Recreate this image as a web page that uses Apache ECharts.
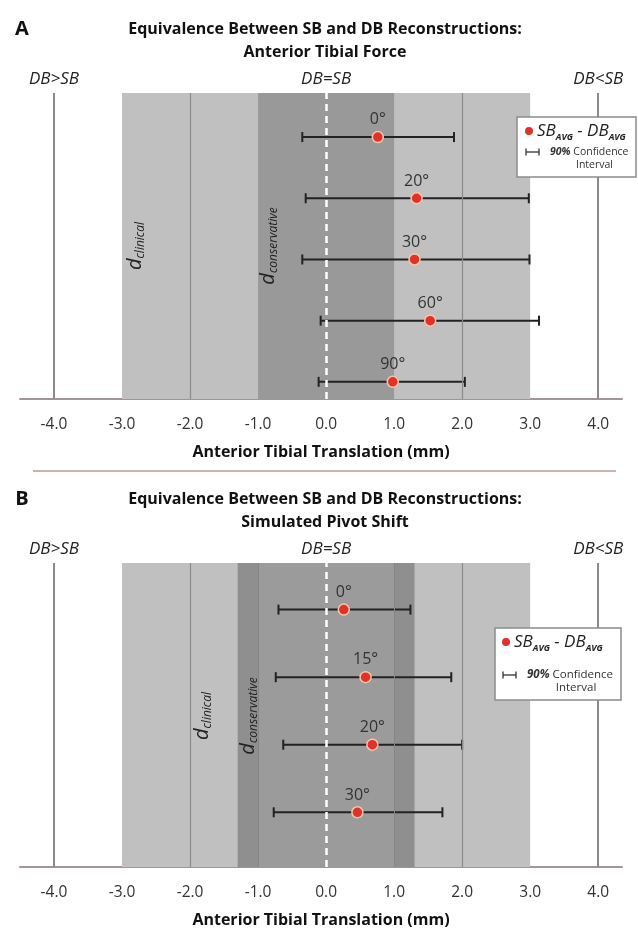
<!DOCTYPE html>
<html>
<head>
<meta charset="utf-8">
<script src="https://cdn.jsdelivr.net/npm/echarts@6/dist/echarts.min.js"></script>
<style>
  html, body { margin: 0; padding: 0; background: #fff; }
  #chart { width: 638px; height: 929px; }
</style>
</head>
<body>
<div id="chart"></div>
<script>
// x axis tick labels (mm)
var xTicks = [-4, -3, -2, -1, 0, 1, 2, 3, 4];

// A: anterior tibial force
var angleA = ['0°', '20°', '30°', '60°', '90°'];
var meanA = [0.76, 1.33, 1.30, 1.53, 0.98];
var lowA = [-0.35, -0.30, -0.35, -0.08, -0.11];
var highA = [1.88, 2.98, 2.99, 3.13, 2.04];

// B: simulated pivot shift
var angleB = ['0°', '15°', '20°', '30°'];
var meanB = [0.26, 0.58, 0.68, 0.46];
var lowB = [-0.70, -0.74, -0.63, -0.77];
var highB = [1.24, 1.84, 2.00, 1.71];

// equivalence margins
var clinical = 3;
var conservativeA = 1;
var conservativeB = 1.3;

var FONT = "'Open Sans'";
var chart = echarts.init(document.getElementById('chart'));

var grids = [
  { left: 20, width: 602, top: 93, height: 306 },
  { left: 20, width: 602, top: 563, height: 306 }
];

function xAxisFor(i) {
  return {
    gridIndex: i, type: 'value', min: -4.5, max: 4.35,
    axisLine: { lineStyle: { color: '#a39593', width: 2 } },
    axisTick: { show: false },
    splitLine: { show: false },
    axisLabel: {
      customValues: xTicks, margin: 18, fontSize: 15.5, fontFamily: FONT, color: '#333',
      formatter: function (v) { return v.toFixed(1); }
    },
    name: 'Anterior Tibial Translation (mm)',
    nameLocation: 'middle', nameGap: 45,
    nameTextStyle: { fontSize: 16, fontWeight: 'bold', fontFamily: FONT, color: '#111' }
  };
}

function renderBar(params, api) {
  var y = api.value(0);
  var p1 = api.coord([api.value(1), y]);
  var p2 = api.coord([api.value(2), y]);
  var st = { stroke: '#222', lineWidth: 2 };
  var c = 5;
  return {
    type: 'group',
    children: [
      { type: 'line', shape: { x1: p1[0], y1: p1[1], x2: p2[0], y2: p2[1] }, style: st },
      { type: 'line', shape: { x1: p1[0], y1: p1[1] - c, x2: p1[0], y2: p1[1] + c }, style: st },
      { type: 'line', shape: { x1: p2[0], y1: p2[1] - c, x2: p2[0], y2: p2[1] + c }, style: st }
    ]
  };
}

function panelSeries(i, angles, mean, low, high, cons) {
  var n = angles.length;
  var bars = [], pts = [];
  for (var k = 0; k < n; k++) {
    bars.push([n - k, low[k], high[k]]);
    pts.push([mean[k], n - k, angles[k]]);
  }
  var areas = [
    [{ xAxis: -clinical, itemStyle: { color: '#c0c0c0' } }, { xAxis: clinical }],
    [{ xAxis: -cons, itemStyle: { color: cons > 1 ? '#8f8f8f' : '#999999' } }, { xAxis: cons }]
  ];
  if (cons > 1) {
    areas.push([{ xAxis: -1, itemStyle: { color: '#9b9b9b' } }, { xAxis: 1 }]);
  }
  var grey = { color: '#8a8a8a', width: 2, type: 'solid' };
  var thin = { color: '#8a8a8a', width: 1.2, type: 'solid' };
  var lines = [
    { xAxis: -4, lineStyle: grey }, { xAxis: 4, lineStyle: grey },
    { xAxis: -2, lineStyle: thin }, { xAxis: 2, lineStyle: thin }
  ];
  if (cons > 1) {
    lines.push({ xAxis: -1, lineStyle: { color: '#868686', width: 1, type: 'solid' } });
    lines.push({ xAxis: 1, lineStyle: { color: '#868686', width: 1, type: 'solid' } });
  }
  lines.push({ xAxis: 0, lineStyle: { color: '#ffffff', width: 2.5, type: [7, 5] } });
  return [
    {
      type: 'line', xAxisIndex: i, yAxisIndex: i, data: [], z: 1, silent: true,
      markArea: { silent: true, data: areas }
    },
    {
      type: 'line', xAxisIndex: i, yAxisIndex: i, data: [], z: 2, silent: true,
      markLine: { silent: true, symbol: 'none', label: { show: false }, animation: false, data: lines }
    },
    {
      type: 'custom', xAxisIndex: i, yAxisIndex: i, z: 3, silent: true,
      renderItem: renderBar, encode: { x: [1, 2], y: 0 }, data: bars
    },
    {
      type: 'scatter', xAxisIndex: i, yAxisIndex: i, z: 4, silent: true,
      symbolSize: 11,
      itemStyle: { color: '#e2302a', borderColor: '#f5c8a8', borderWidth: 1.5, opacity: 1 },
      label: {
        show: true, position: 'top', distance: 3, fontSize: 16, fontFamily: FONT, color: '#333',
        formatter: function (p) { return p.data[2]; }
      },
      data: pts
    }
  ];
}

var series = panelSeries(0, angleA, meanA, lowA, highA, conservativeA)
  .concat(panelSeries(1, angleB, meanB, lowB, highB, conservativeB));

chart.setOption({
  animation: false,
  grid: grids,
  xAxis: [xAxisFor(0), xAxisFor(1)],
  yAxis: [
    { gridIndex: 0, type: 'value', min: 0.72, max: 5.72, show: false },
    { gridIndex: 1, type: 'value', min: 0.19, max: 4.69, show: false }
  ],
  series: series
});

// ---- annotations ----
var ctx = document.createElement('canvas').getContext('2d');
function run(parts, align, color) {
  // parts: [text, font, dy]
  var w = parts.map(function (p) { ctx.font = p[1]; return ctx.measureText(p[0]).width; });
  var total = w.reduce(function (a, b) { return a + b; }, 0);
  var x = align === 'center' ? -total / 2 : 0;
  return parts.map(function (p, k) {
    var el = {
      type: 'text', x: x, y: p[2], z: 20,
      style: { text: p[0], font: p[1], fill: color || '#222', align: 'left', verticalAlign: 'middle' }
    };
    x += w[k];
    return el;
  });
}
function plainText(txt, x, y, font, align, color) {
  return {
    type: 'text', x: x, y: y, z: 20,
    style: { text: txt, font: font, fill: color || '#111', align: align || 'center', verticalAlign: 'middle' }
  };
}
function dLabel(sub, gi, xv) {
  var top = grids[gi].top, h = grids[gi].height;
  var px = chart.convertToPixel({ xAxisIndex: gi }, xv);
  return {
    type: 'group', x: px, y: top + h / 2, rotation: Math.PI / 2, z: 20,
    children: run([['d', "italic 20px " + FONT, 0], [sub, "italic 12px " + FONT, 5]], 'center', '#222')
  };
}
function line(x1, y1, x2, y2, color, lw) {
  return { type: 'line', z: 20, shape: { x1: x1, y1: y1, x2: x2, y2: y2 }, style: { stroke: color, lineWidth: lw } };
}
function legend(x, y, w, h, dot, ci, gap, small) {
  return [
    { type: 'rect', z: 19, shape: { x: x, y: y, width: w, height: h }, style: { fill: '#fff', stroke: '#8c8c8c', lineWidth: 1.5 } },
    { type: 'circle', z: 20, shape: { cx: x + dot, cy: y + 14, r: 4 }, style: { fill: '#e2302a' } },
    {
      type: 'group', x: x + dot + 8, y: y + 14, z: 20,
      children: run([
        ['SB', "italic 17px " + FONT, 0], ['AVG', "italic bold 9px " + FONT, 6],
        [' - DB', "italic 17px " + FONT, 0], ['AVG', "italic bold 9px " + FONT, 6]
      ], 'left', '#222')
    },
    line(x + ci, y + gap, x + ci + 13, y + gap, '#333', 1.3),
    line(x + ci, y + gap - 3.5, x + ci, y + gap + 3.5, '#333', 1.3),
    line(x + ci + 13, y + gap - 3.5, x + ci + 13, y + gap + 3.5, '#333', 1.3),
    {
      type: 'group', x: x + ci + 24, y: y + gap, z: 20,
      children: run([['90%', "italic bold " + small + "px " + FONT, 0], [' Confidence', small + "px " + FONT, 0]], 'left', '#333')
    },
    plainText('Interval', x + w / 2 + 18, y + gap + 13, small + "px " + FONT, 'center', '#333')
  ];
}

var g = [];
var titles = [
  ['A', 'Anterior Tibial Force', 0],
  ['B', 'Simulated Pivot Shift', 1]
];
titles.forEach(function (t) {
  var top = grids[t[2]].top;
  g.push(plainText(t[0], 22, top - 64, "bold 20px " + FONT, 'center', '#111'));
  g.push(plainText('Equivalence Between SB and DB Reconstructions:', 325, top - 64, "bold 16px " + FONT));
  g.push(plainText(t[1], 325, top - 41, "bold 16px " + FONT));
  [['DB>SB', -4], ['DB=SB', 0], ['DB<SB', 4]].forEach(function (d) {
    var px = chart.convertToPixel({ xAxisIndex: t[2] }, d[1]);
    g.push(plainText(d[0], px, top - 14, "italic 17px " + FONT, 'center', '#222'));
  });
});
g.push(dLabel('clinical', 0, -2.8));
g.push(dLabel('conservative', 0, -0.85));
g.push(dLabel('clinical', 1, -1.82));
g.push(dLabel('conservative', 1, -1.14));
g.push(line(33, 471, 616, 471, '#b39c97', 1.5));
g = g.concat(legend(517, 117, 119, 60, 12, 9, 35, 10.5));
g = g.concat(legend(495, 628, 126, 72, 11, 8, 47, 11.5));

chart.setOption({ graphic: g });
</script>
</body>
</html>
